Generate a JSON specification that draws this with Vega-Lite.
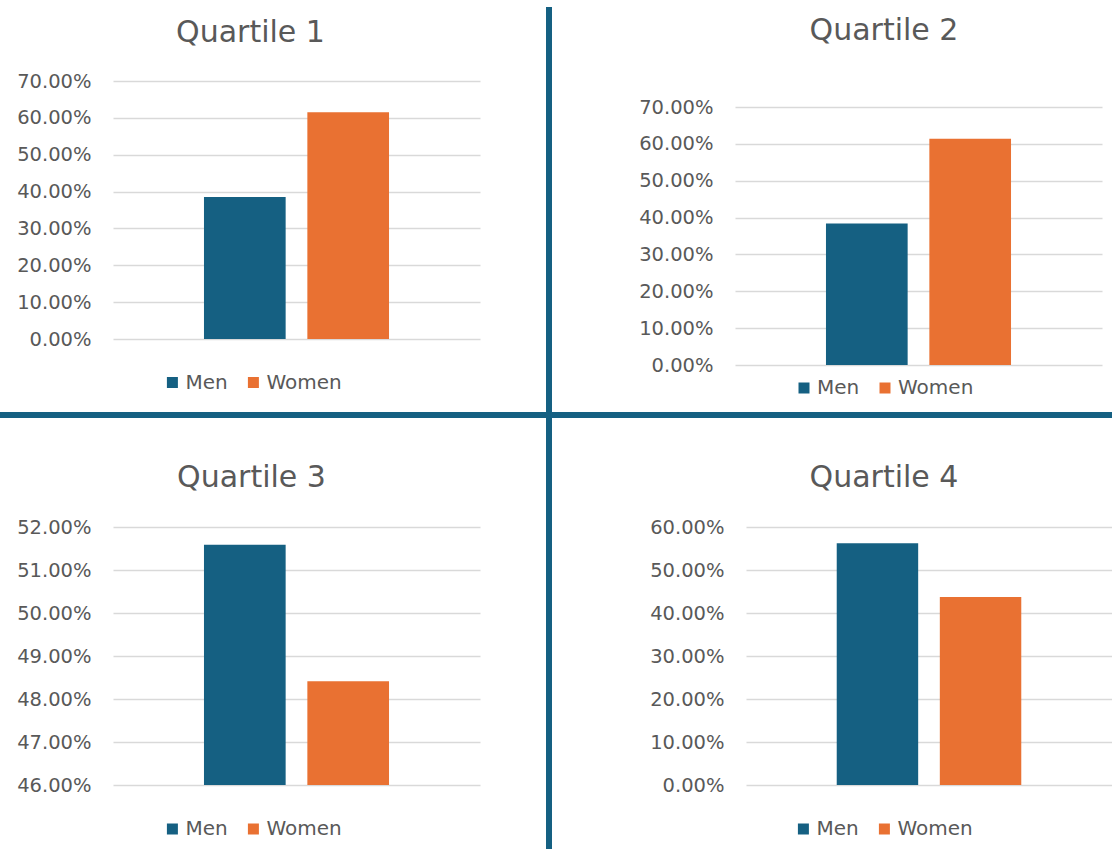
{
  "$schema": "https://vega.github.io/schema/vega-lite/v6.json",
  "padding": {"left": 0, "top": 7, "right": 0, "bottom": 0},
  "background": "white",
  "config": {
    "font": "DejaVu Sans",
    "view": {"stroke": null},
    "axis": {
      "labelFont": "DejaVu Sans",
      "labelColor": "#595959",
      "labelFontSize": 19.5,
      "gridColor": "#d9d9d9",
      "gridWidth": 1.3,
      "domain": false,
      "ticks": false,
      "tickSize": 0,
      "title": null
    },
    "title": {
      "font": "DejaVu Sans",
      "fontSize": 30,
      "fontWeight": "normal",
      "color": "#595959",
      "anchor": "middle",
      "frame": "group",
      "baseline": "alphabetic"
    },
    "legend": {
      "title": null,
      "direction": "horizontal",
      "symbolType": "square",
      "symbolSize": 121,
      "symbolStrokeWidth": 0,
      "symbolOpacity": 1,
      "labelFont": "DejaVu Sans",
      "labelFontSize": 20,
      "labelColor": "#595959",
      "labelOffset": 3,
      "columnPadding": 15,
      "padding": 0
    }
  },
  "datasets": {
    "shares": [
      {"quartile": "Quartile 1", "gender": "Men", "share": 0.385},
      {"quartile": "Quartile 1", "gender": "Women", "share": 0.615},
      {"quartile": "Quartile 2", "gender": "Men", "share": 0.384},
      {"quartile": "Quartile 2", "gender": "Women", "share": 0.614},
      {"quartile": "Quartile 3", "gender": "Men", "share": 0.5159},
      {"quartile": "Quartile 3", "gender": "Women", "share": 0.4841},
      {"quartile": "Quartile 4", "gender": "Men", "share": 0.562},
      {"quartile": "Quartile 4", "gender": "Women", "share": 0.437}
    ],
    "dividers": [
      {"divider": "vertical-top"},
      {"divider": "horizontal"},
      {"divider": "vertical-bottom"}
    ]
  },
  "spacing": 0,
  "resolve": {"scale": {"color": "independent"}},
  "vconcat": [
    {
      "spacing": 8,
      "resolve": {"scale": {"color": "independent"}},
      "hconcat": [
        {"data": {"values": []}, "width": 5, "height": 1, "mark": "rect", "encoding": {}},
        {
          "spacing": 0,
          "resolve": {"scale": {"color": "independent"}},
          "vconcat": [
            {"data": {"values": []}, "width": 1, "height": 1, "mark": "rect", "encoding": {}},
            {
              "data": {"name": "shares"},
              "transform": [{"filter": "datum.quartile === 'Quartile 1'"}],
              "title": {"text": "Quartile 1", "dx": -46, "offset": -39.5},
              "width": 367,
              "height": 258,
              "mark": {"type": "bar"},
              "encoding": {
                "x": {"field": "gender", "type": "nominal", "sort": ["Men", "Women"],
                  "scale": {"paddingInner": 0.21, "paddingOuter": 0.88},
                  "axis": {"orient": "top", "labels": false, "ticks": false, "domain": false, "grid": false, "title": null, "minExtent": 73, "maxExtent": 73}},
                "y": {"field": "share", "type": "quantitative",
                  "scale": {"domain": [0, 0.7], "nice": false},
                  "axis": {"values": [0, 0.1, 0.2, 0.3, 0.4, 0.5, 0.6, 0.7], "format": ".2%", "labelPadding": 22, "minExtent": 100, "maxExtent": 100, "title": null}},
                "color": {"field": "gender", "type": "nominal", "sort": ["Men", "Women"],
                  "scale": {"domain": ["Men", "Women"], "range": ["#156082", "#E97132"]},
                  "legend": {"orient": "none", "legendX": 49.4, "legendY": 291.5}}
              }
            }
          ]
        },
        {"data": {"values": []}, "width": 50, "height": 1, "mark": "rect", "encoding": {}},
        {
          "data": {"name": "dividers"},
          "transform": [{"filter": "datum.divider === 'vertical-top'"}],
          "width": 6,
          "height": 405,
          "mark": {"type": "rect", "color": "#156082"},
          "encoding": {}
        },
        {
          "spacing": 0,
          "resolve": {"scale": {"color": "independent"}},
          "vconcat": [
            {"data": {"values": []}, "width": 1, "height": 1, "mark": "rect", "encoding": {}},
            {
              "data": {"name": "shares"},
              "transform": [{"filter": "datum.quartile === 'Quartile 2'"}],
              "title": {"text": "Quartile 2", "dx": -34.5, "offset": -37.5},
              "width": 367,
              "height": 258,
              "mark": {"type": "bar"},
              "encoding": {
                "x": {"field": "gender", "type": "nominal", "sort": ["Men", "Women"],
                  "scale": {"paddingInner": 0.21, "paddingOuter": 0.88},
                  "axis": {"orient": "top", "labels": false, "ticks": false, "domain": false, "grid": false, "title": null, "minExtent": 99, "maxExtent": 99}},
                "y": {"field": "share", "type": "quantitative",
                  "scale": {"domain": [0, 0.7], "nice": false},
                  "axis": {"values": [0, 0.1, 0.2, 0.3, 0.4, 0.5, 0.6, 0.7], "format": ".2%", "labelPadding": 22, "minExtent": 175, "maxExtent": 175, "title": null}},
                "color": {"field": "gender", "type": "nominal", "sort": ["Men", "Women"],
                  "scale": {"domain": ["Men", "Women"], "range": ["#156082", "#E97132"]},
                  "legend": {"orient": "none", "legendX": 59, "legendY": 271}}
              }
            }
          ]
        }
      ]
    },
    {
      "data": {"name": "dividers"},
      "transform": [{"filter": "datum.divider === 'horizontal'"}],
      "width": 1112,
      "height": 6,
      "mark": {"type": "rect", "color": "#156082"},
      "encoding": {}
    },
    {
      "spacing": 8,
      "resolve": {"scale": {"color": "independent"}},
      "hconcat": [
        {"data": {"values": []}, "width": 5, "height": 1, "mark": "rect", "encoding": {}},
        {
          "spacing": 0,
          "resolve": {"scale": {"color": "independent"}},
          "vconcat": [
            {"data": {"values": []}, "width": 1, "height": 1, "mark": "rect", "encoding": {}},
            {
              "data": {"name": "shares"},
              "transform": [{"filter": "datum.quartile === 'Quartile 3'"}],
              "title": {"text": "Quartile 3", "dx": -45, "offset": -73.5},
              "width": 367,
              "height": 258,
              "mark": {"type": "bar"},
              "encoding": {
                "x": {"field": "gender", "type": "nominal", "sort": ["Men", "Women"],
                  "scale": {"paddingInner": 0.21, "paddingOuter": 0.88},
                  "axis": {"orient": "top", "labels": false, "ticks": false, "domain": false, "grid": false, "title": null, "minExtent": 108, "maxExtent": 108}},
                "y": {"field": "share", "type": "quantitative",
                  "scale": {"domain": [0.46, 0.52], "nice": false, "zero": false, "clamp": true},
                  "axis": {"values": [0.46, 0.47, 0.48, 0.49, 0.5, 0.51, 0.52], "format": ".2%", "labelPadding": 22, "minExtent": 100, "maxExtent": 100, "title": null}},
                "color": {"field": "gender", "type": "nominal", "sort": ["Men", "Women"],
                  "scale": {"domain": ["Men", "Women"], "range": ["#156082", "#E97132"]},
                  "legend": {"orient": "none", "legendX": 49.4, "legendY": 292}}
              }
            }
          ]
        },
        {"data": {"values": []}, "width": 50, "height": 1, "mark": "rect", "encoding": {}},
        {
          "data": {"name": "dividers"},
          "transform": [{"filter": "datum.divider === 'vertical-bottom'"}],
          "width": 6,
          "height": 431,
          "mark": {"type": "rect", "color": "#156082"},
          "encoding": {}
        },
        {
          "spacing": 0,
          "resolve": {"scale": {"color": "independent"}},
          "vconcat": [
            {"data": {"values": []}, "width": 1, "height": 1, "mark": "rect", "encoding": {}},
            {
              "data": {"name": "shares"},
              "transform": [{"filter": "datum.quartile === 'Quartile 4'"}],
              "title": {"text": "Quartile 4", "dx": -45, "offset": -73.5},
              "width": 366,
              "height": 258,
              "mark": {"type": "bar"},
              "encoding": {
                "x": {"field": "gender", "type": "nominal", "sort": ["Men", "Women"],
                  "scale": {"paddingInner": 0.21, "paddingOuter": 0.88},
                  "axis": {"orient": "top", "labels": false, "ticks": false, "domain": false, "grid": false, "title": null, "minExtent": 108, "maxExtent": 108}},
                "y": {"field": "share", "type": "quantitative",
                  "scale": {"domain": [0, 0.6], "nice": false},
                  "axis": {"values": [0, 0.1, 0.2, 0.3, 0.4, 0.5, 0.6], "format": ".2%", "labelPadding": 22, "minExtent": 186, "maxExtent": 186, "title": null}},
                "color": {"field": "gender", "type": "nominal", "sort": ["Men", "Women"],
                  "scale": {"domain": ["Men", "Women"], "range": ["#156082", "#E97132"]},
                  "legend": {"orient": "none", "legendX": 47.4, "legendY": 292}}
              }
            }
          ]
        }
      ]
    }
  ]
}
